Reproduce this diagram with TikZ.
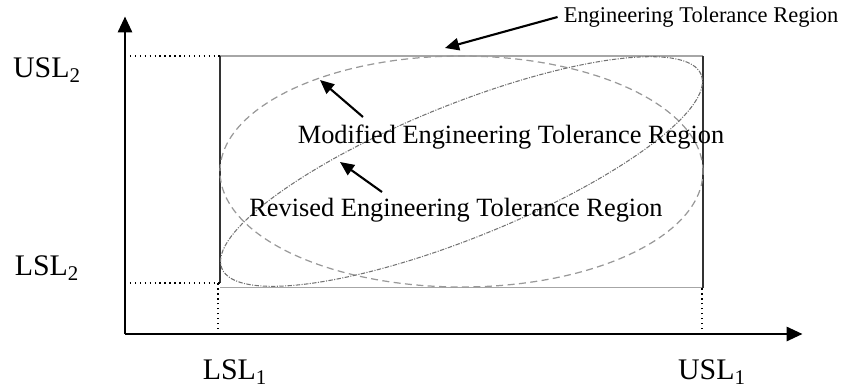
\documentclass[tikz,border=0pt]{standalone}
\usepackage{fontspec}
\setmainfont{Liberation Serif}
\usetikzlibrary{arrows.meta}
\tikzset{
  axis/.style={line width=1.4pt, -{Triangle[length=9pt, width=8pt]}},
  guide/.style={line width=0.8pt, dotted},
  pointer/.style={line width=1.2pt, -{Triangle[length=8pt, width=7pt]}},
  speclabel/.style={font=\fontsize{17}{20}\selectfont},
  regionlabel/.style={font=\fontsize{12.8}{15}\selectfont},
  innerlabel/.style={font=\fontsize{15}{18}\selectfont}
}
\begin{document}
\begin{tikzpicture}

  \useasboundingbox (-2.5,-1.1) rectangle (14.7,6.68);

  % axes
  \coordinate (origin) at (0,0);
  \coordinate (ytip) at (0,6.35);
  \coordinate (xtip) at (13.55,0);
  \draw[axis] (origin) -- (ytip);
  \draw[axis] (origin) -- (xtip);

  % tolerance box
  \draw[gray!70, line width=0.8pt] (1.9,5.56) -- (11.56,5.56);
  \draw[gray!70, line width=0.8pt] (1.9,0.93) -- (11.56,0.93);
  \draw[black!80, line width=0.6pt] (1.9,1.02) -- (1.9,5.56);
  \draw[black!80, line width=0.6pt] (11.56,0.93) -- (11.56,5.56);

  % dotted guides
  \draw[guide] (0,5.56) -- (1.9,5.56);
  \draw[guide] (0,1.02) -- (1.9,1.02);
  \draw[guide] (1.86,0) -- (1.86,1.02);
  \draw[guide] (11.54,0) -- (11.54,0.93);

  % regions
  \draw[gray!80, line width=0.7pt, dash pattern=on 4pt off 2.5pt]
    (6.73,3.25) ellipse [x radius=4.83, y radius=2.31];
  \draw[gray!90!black, line width=0.6pt, dash pattern=on 2.5pt off 0.8pt on 0.6pt off 0.8pt]
    (6.73,3.25) ellipse [x radius=5.17, y radius=1.33, rotate=22];

  % spec limit labels
  \node[speclabel] (usl2) at (-1.56,5.28) {USL\textsubscript{2}};
  \node[speclabel] (lsl2) at (-1.56,1.32) {LSL\textsubscript{2}};
  \node[speclabel] (lsl1) at (2.2,-0.76) {LSL\textsubscript{1}};
  \node[speclabel] (usl1) at (11.74,-0.76) {USL\textsubscript{1}};

  % region labels
  \node[regionlabel] (etr) at (11.52,6.34) {Engineering Tolerance Region};
  \node[innerlabel] (metr) at (7.72,3.94) {Modified Engineering Tolerance Region};
  \node[innerlabel] (retr) at (6.62,2.48) {Revised Engineering Tolerance Region};

  \coordinate (etrtip) at (6.4,5.72);
  \coordinate (metrtip) at (3.9,5.08);
  \coordinate (retrtip) at (4.3,3.44);
  \coordinate (metrtail) at (4.76,4.34);
  \coordinate (retrtail) at (5.14,2.84);

  \draw[pointer] (etr.west) -- (etrtip);
  \draw[pointer] (metrtail) -- (metrtip);
  \draw[pointer] (retrtail) -- (retrtip);

\end{tikzpicture}
\end{document}
